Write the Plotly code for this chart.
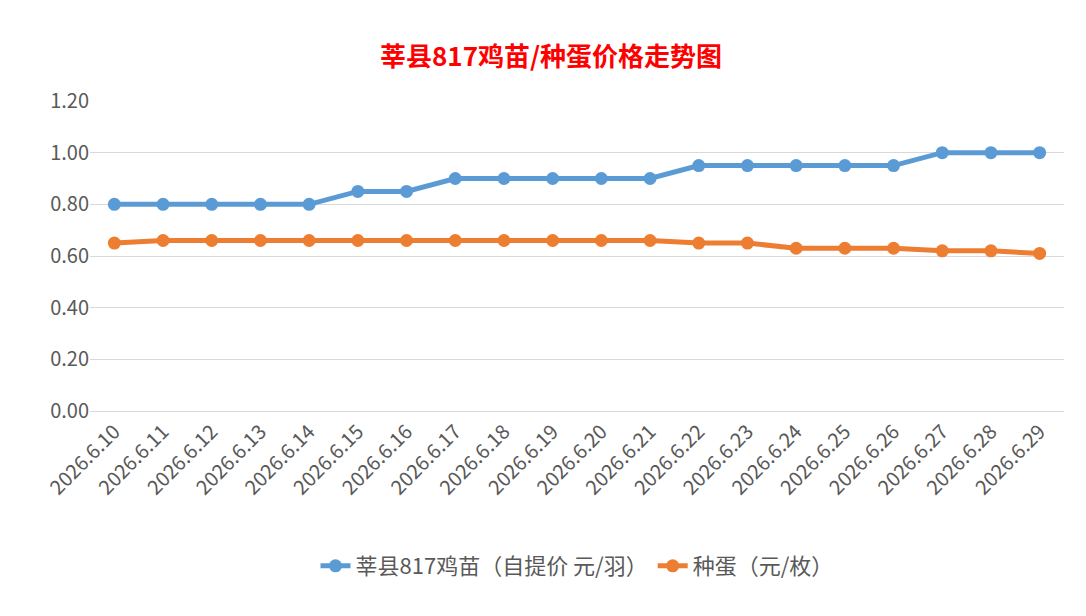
import plotly.graph_objects as go

dates = ["2026.6.10","2026.6.11","2026.6.12","2026.6.13","2026.6.14","2026.6.15","2026.6.16",
         "2026.6.17","2026.6.18","2026.6.19","2026.6.20","2026.6.21","2026.6.22","2026.6.23",
         "2026.6.24","2026.6.25","2026.6.26","2026.6.27","2026.6.28","2026.6.29"]
chick = [0.80,0.80,0.80,0.80,0.80,0.85,0.85,0.90,0.90,0.90,0.90,0.90,0.95,0.95,0.95,0.95,0.95,1.00,1.00,1.00]
egg = [0.65,0.66,0.66,0.66,0.66,0.66,0.66,0.66,0.66,0.66,0.66,0.66,0.65,0.65,0.63,0.63,0.63,0.62,0.62,0.61]

font = "Noto Sans CJK SC"
fig = go.Figure()
fig.add_trace(go.Scatter(x=dates, y=chick, name="莘县817鸡苗（自提价 元/羽）", mode="lines+markers",
                         line=dict(color="#5b9bd5", width=5), marker=dict(size=13, color="#5b9bd5")))
fig.add_trace(go.Scatter(x=dates, y=egg, name="种蛋（元/枚）", mode="lines+markers",
                         line=dict(color="#ed7d31", width=5), marker=dict(size=13, color="#ed7d31")))
fig.update_layout(
    width=1086, height=616, paper_bgcolor="white", plot_bgcolor="white",
    margin=dict(l=82, r=30, t=93, b=213),
    font=dict(family=font, color="#595959", size=19),
    title=dict(text="<b>莘县817鸡苗/种蛋价格走势图</b>", x=0.5, xanchor="center", y=0.935,
               font=dict(color="#ff0000", size=26, family=font)),
    xaxis=dict(type="category", tickangle=-45, showgrid=False, showline=True, linecolor="#d9d9d9",
               ticks="", tickfont=dict(size=20, color="#595959"), range=[-0.5, 19.5]),
    yaxis=dict(range=[0, 1.2], dtick=0.2, tickformat=".2f", gridcolor="#d9d9d9", zeroline=False,
               showline=False, tickfont=dict(size=20, color="#595959")),
    legend=dict(orientation="h", x=0.5, xanchor="center", y=-0.5, yanchor="middle",
                font=dict(size=22, color="#595959")),
)
fig.write_html("out.html")
